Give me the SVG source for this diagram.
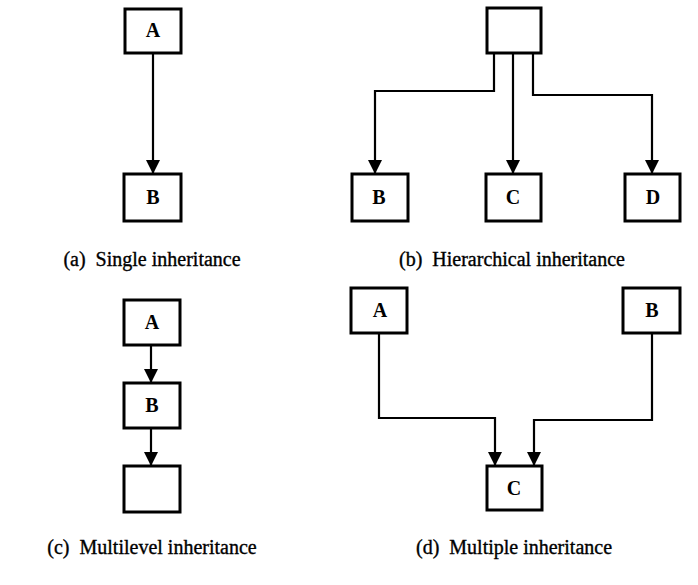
<svg xmlns="http://www.w3.org/2000/svg" width="698" height="585" viewBox="0 0 698 585">
<style>
.box{fill:#fff;stroke:#000;stroke-width:3}
.lbl{font-family:"Liberation Serif","Times New Roman",serif;font-weight:bold;font-size:20px;text-anchor:middle;fill:#000}
.cap{font-family:"Liberation Serif","Times New Roman",serif;font-size:20px;text-anchor:middle;fill:#000;stroke:#000;stroke-width:0.35}
.edge{fill:none;stroke:#000;stroke-width:2.2;marker-end:url(#arr)}
</style>
<defs>
<marker id="arr" viewBox="0 0 14 14" markerUnits="userSpaceOnUse" markerWidth="14" markerHeight="14" refX="14" refY="7" orient="auto">
<path d="M0,0 L14,7 L0,14 Z" fill="#000"/>
</marker>
</defs>
<rect width="698" height="585" fill="#fff"/>
<g id="connectors">
<path class="edge" d="M153,53 V174"/>
<path class="edge" d="M494,53 V91 H375 V174"/>
<path class="edge" d="M513,53 V174"/>
<path class="edge" d="M533,53 V95 H652 V174"/>
<path class="edge" d="M151,345 V383"/>
<path class="edge" d="M151,428 V466"/>
<path class="edge" d="M379,333 V418 H495 V466"/>
<path class="edge" d="M652,333 V420 H534 V466"/>
</g>
<g id="a-A"><rect class="box" x="125" y="9" width="56" height="44"/><text class="lbl" x="153" y="37">A</text></g>
<g id="a-B"><rect class="box" x="124" y="174" width="57" height="47"/><text class="lbl" x="153" y="204">B</text></g>
<g id="b-top"><rect class="box" x="487" y="8" width="54" height="45"/></g>
<g id="b-B"><rect class="box" x="352" y="174" width="56" height="47"/><text class="lbl" x="379" y="204">B</text></g>
<g id="b-C"><rect class="box" x="486" y="174" width="55" height="47"/><text class="lbl" x="513" y="204">C</text></g>
<g id="b-D"><rect class="box" x="625" y="174" width="55" height="47"/><text class="lbl" x="653" y="204">D</text></g>
<g id="c-A"><rect class="box" x="124" y="300" width="56" height="45"/><text class="lbl" x="152" y="329">A</text></g>
<g id="c-B"><rect class="box" x="124" y="383" width="56" height="45"/><text class="lbl" x="152" y="412">B</text></g>
<g id="c-C"><rect class="box" x="124" y="466" width="56" height="46"/></g>
<g id="d-A"><rect class="box" x="351" y="288" width="56" height="45"/><text class="lbl" x="380" y="317">A</text></g>
<g id="d-B"><rect class="box" x="623" y="288" width="57" height="45"/><text class="lbl" x="652" y="317">B</text></g>
<g id="d-C"><rect class="box" x="487" y="466" width="55" height="44"/><text class="lbl" x="514" y="495">C</text></g>
<g id="captions">
<text class="cap" x="152" y="266" xml:space="preserve">(a)  Single inheritance</text>
<text class="cap" x="512" y="266" xml:space="preserve">(b)  Hierarchical inheritance</text>
<text class="cap" x="152" y="554" xml:space="preserve">(c)  Multilevel inheritance</text>
<text class="cap" x="514" y="554" xml:space="preserve">(d)  Multiple inheritance</text>
</g>
</svg>
